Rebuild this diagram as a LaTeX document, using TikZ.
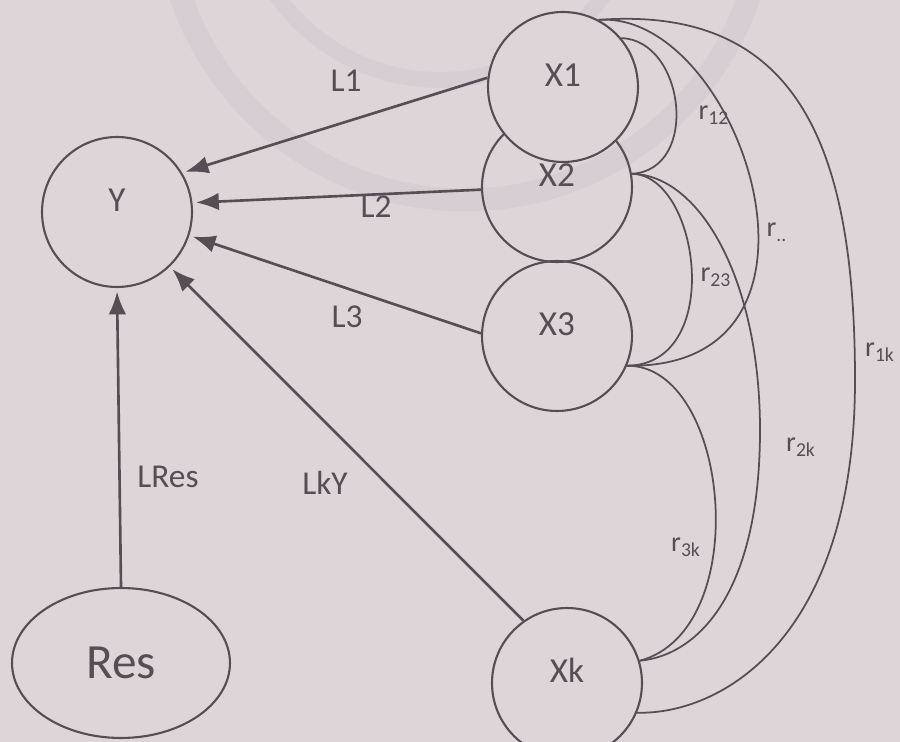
\documentclass[tikz,border=0pt]{standalone}
\usepackage{fontspec}
\setmainfont{Carlito}
\usetikzlibrary{arrows.meta}
\usetikzlibrary{shapes.geometric}
\definecolor{paper}{RGB}{222,213,217}
\definecolor{ink}{RGB}{86,78,84}
\definecolor{wmark}{RGB}{214,206,210}

\begin{document}
\begin{tikzpicture}[x=0.02cm, y=-0.02cm,
  var/.style={draw=ink, line width=1.2pt, circle, minimum size=3cm, inner sep=0pt,
    text=ink, font=\fontsize{20}{24}\selectfont, text height=8pt, text depth=8pt},
  load/.style={draw=ink, line width=1.5pt, -{Latex[length=13pt,width=10pt]}, shorten >=2pt},
  corr/.style={draw=ink, line width=1pt},
  lab/.style={text=ink, font=\fontsize{19}{22}\selectfont},
  rlab/.style={text=ink, font=\fontsize{16}{18}\selectfont}]

\useasboundingbox (0,0) rectangle (900,742);
\fill[paper] (0,0) rectangle (900,742);

% faint logo behind the drawing
\draw[wmark, line width=13pt] (465,-100) circle [radius=300];
\draw[wmark, line width=9pt] (440,-120) circle [radius=200];

% latent variables
\node[var] (Y)  at (117,212) {Y};
\node[var] (X2) at (557,187) {X2};
\node[var, fill=paper] (X1) at (563,87) {X1};
\node[var] (X3) at (557,336) {X3};
\node[var] (Xk) at (567,683) {Xk};
\node[draw=ink, line width=1.2pt, ellipse, minimum width=4.36cm, minimum height=3cm,
  text=ink, font=\fontsize{28}{32}\selectfont] (Res) at (121,663) {Res};

% loadings on Y
\draw[load] (X1.173) -- (Y.31);
\draw[load] (X2.182) -- (Y.7);
\draw[load] (X3.178) -- (Y.-18);
\draw[load] (Xk.125) -- (Y.-46);
\draw[load] (Res.north) -- (Y.south);

\node[lab] (l1)   at (346,81)  {L1};
\node[lab] (l2)   at (376,207) {L2};
\node[lab] (l3)   at (347,317) {L3};
\node[lab] (lky)  at (325,483) {LkY};
\node[lab] (lres) at (168,477) {LRes};

% correlations between the X's
\draw[corr] (X1.40) .. controls (685,40) and (700,170) .. (X2.10);
\draw[corr] (X1.62) .. controls (740,10) and (860,370) .. (X3.-23);
\draw[corr] (X1.62) .. controls (800,5) and (855,150) .. (855,380)
                    .. controls (855,640) and (720,715) .. (Xk.-23);
\draw[corr] (X2.10) .. controls (700,175) and (725,365) .. (X3.-23);
\draw[corr] (X2.10) .. controls (700,175) and (760,280) .. (760,430)
                    .. controls (760,590) and (700,655) .. (Xk.17);
\draw[corr] (X3.-23) .. controls (730,365) and (755,630) .. (Xk.17);

\node[rlab] (r12) at (714,115) {r\textsubscript{12}};
\node[rlab] (rdots) at (777,232) {r\textsubscript{..}};
\node[rlab] (r23) at (716,277) {r\textsubscript{23}};
\node[rlab] (r2k) at (801,447) {r\textsubscript{2k}};
\node[rlab] (r3k) at (686,547) {r\textsubscript{3k}};
\node[rlab] (r1k) at (880,352) {r\textsubscript{1k}};

\end{tikzpicture}
\end{document}
